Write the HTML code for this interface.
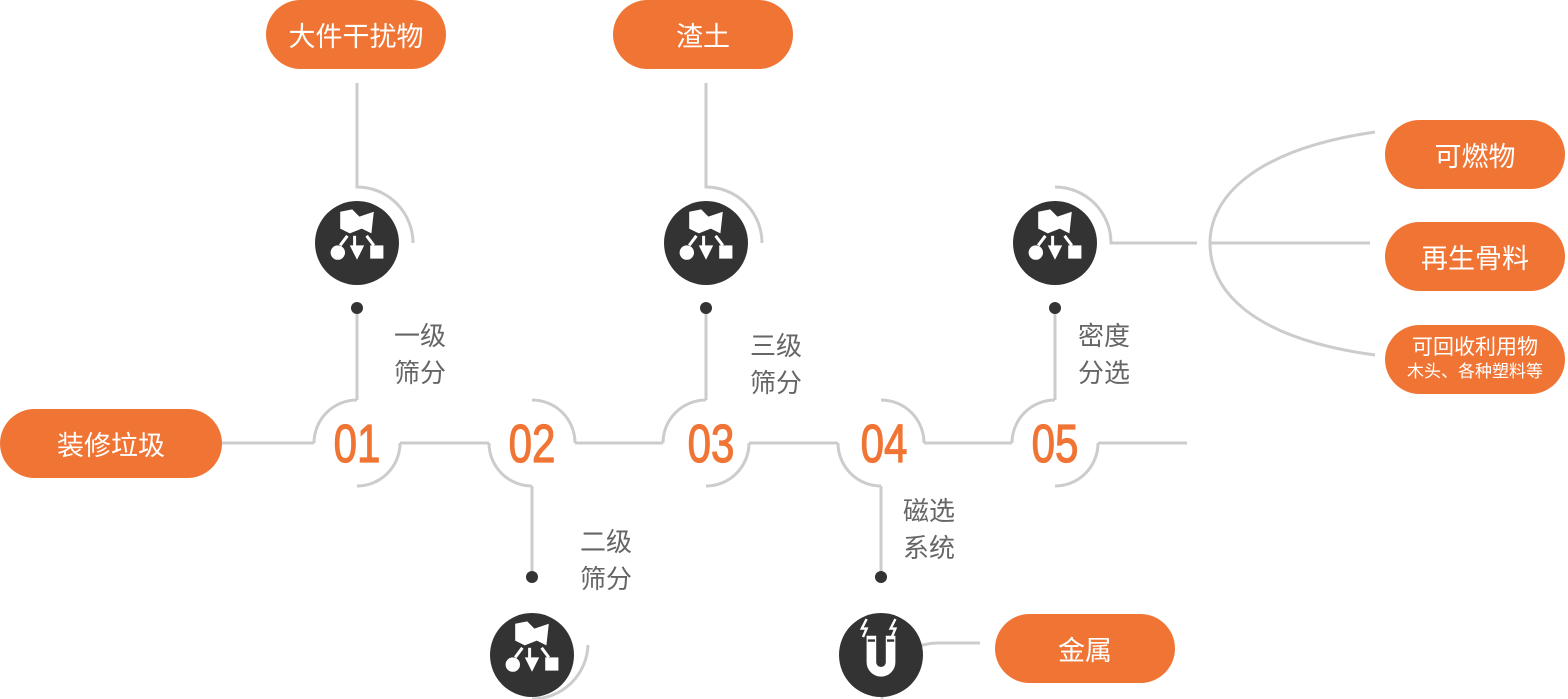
<!DOCTYPE html>
<html><head><meta charset="utf-8"><style>
body{margin:0;width:1568px;height:699px;background:#fff;overflow:hidden;position:relative;font-family:"Liberation Sans","Noto Sans CJK SC",sans-serif}
.pill{position:absolute;background:#f07535;color:#fff;border-radius:35px;width:180px;height:69px;display:flex;align-items:center;justify-content:center;font-size:27px;flex-direction:column}
.lb{position:absolute;color:#666;font-size:26px;line-height:37px}
.num{position:absolute;color:#f07535;font-size:54px;font-weight:normal;-webkit-text-stroke:1.2px #f07535;width:100px;text-align:center;transform:scaleX(0.78);line-height:54px}
</style></head><body>
<svg width="1568" height="699" style="position:absolute;left:0;top:0">
<defs>
<g id="ic">
<circle r="42" fill="#333"/>
<g transform="scale(1.2)">
<path d="M-14,-26 L-4,-28 L2,-22 L14,-26 L12,-8 L4,-12 L-6,-8 L-14,-12Z" fill="#fff"/>
<path d="M-2,-6 V4" stroke="#fff" stroke-width="2.5"/>
<path d="M-8,2 L4,2 L-2,14Z" transform="translate(2,0)" fill="#fff"/>
<path d="M-8,-6 L-14,2 M8,-6 L14,2" stroke="#fff" stroke-width="2.5"/>
<circle cx="-16" cy="8" r="6" fill="#fff"/>
<rect x="11" y="2" width="11" height="11" fill="#fff"/>
</g>
</g>
<g id="mag">
<circle r="42" fill="#333"/>
<g transform="scale(1.2)">
<path d="M-12,-16 V6 A12,12 0 0 0 12,6 V-16 H4 V6 A4,4 0 0 1 -4,6 V-16Z" fill="#fff"/>
<path d="M-11,-12 H-5 M5,-12 H11" stroke="#333" stroke-width="2"/>
<path d="M-12,-30 L-16,-22 L-12,-22 L-15,-15 M12,-30 L8,-22 L12,-22 L9,-15" stroke="#fff" stroke-width="2" fill="none"/>
</g>
</g>
</defs>
<g fill="none" stroke="#ccc" stroke-width="3">
<path d="M222,443 H314 M400,443 H489 M575,443 H663 M749,443 H838 M924,443 H1012 M1098,443 H1187"/>
<path d="M357,400 A43,43 0 0 0 314,443 M400,443 A43,43 0 0 1 357,486"/>
<path d="M357,400 V308"/>
<path d="M532,400 A43,43 0 0 1 575,443 M489,443 A43,43 0 0 0 532,486 M532,486 V577"/>
<path d="M706,400 A43,43 0 0 0 663,443 M749,443 A43,43 0 0 1 706,486 M706,400 V308"/>
<path d="M881,400 A43,43 0 0 1 924,443 M838,443 A43,43 0 0 0 881,486 M881,486 V577"/>
<path d="M1055,400 A43,43 0 0 0 1012,443 M1098,443 A43,43 0 0 1 1055,486 M1055,400 V308"/>
<path d="M357,83 V187 A56,56 0 0 1 413,243"/>
<path d="M706,83 V187 A56,56 0 0 1 762,243"/>
<path d="M1055,187 A56,56 0 0 1 1111,243 H1197"/>
<path d="M588,645 A56,56 0 0 1 532,699"/>
<path d="M980,643 H938 A56,56 0 0 0 882,699"/>
<path d="M1375,132 C1250,150 1210,200 1210,243 C1210,290 1250,338 1375,355"/>
<path d="M1210,243 H1370"/>
</g>
<g fill="#333"><circle cx="357" cy="308" r="6"/><circle cx="706" cy="308" r="6"/><circle cx="1055" cy="308" r="6"/><circle cx="532" cy="577" r="6"/><circle cx="881" cy="577" r="6"/></g>
<use href="#ic" x="357" y="243"/>
<use href="#ic" x="706" y="243"/>
<use href="#ic" x="1055" y="243"/>
<use href="#ic" x="532" y="655"/>
<use href="#mag" x="881" y="655"/>
</svg>
<div class="pill" style="left:266px;top:0">大件干扰物</div>
<div class="pill" style="left:613px;top:0">渣土</div>
<div class="pill" style="left:0;top:409px;width:222px">装修垃圾</div>
<div class="pill" style="left:995px;top:614px">金属</div>
<div class="pill" style="left:1385px;top:120px">可燃物</div>
<div class="pill" style="left:1385px;top:222px">再生骨料</div>
<div class="pill" style="left:1385px;top:325px;font-size:21px;line-height:24px">可回收利用物<span style="font-size:17px">木头、各种塑料等</span></div>
<div class="lb" style="left:394px;top:318px">一级<br>筛分</div>
<div class="lb" style="left:580px;top:524px">二级<br>筛分</div>
<div class="lb" style="left:750px;top:328px">三级<br>筛分</div>
<div class="lb" style="left:903px;top:493px">磁选<br>系统</div>
<div class="lb" style="left:1078px;top:318px">密度<br>分选</div>
<div class="num" style="left:307px;top:417px">01</div>
<div class="num" style="left:482px;top:417px">02</div>
<div class="num" style="left:661px;top:417px">03</div>
<div class="num" style="left:834px;top:417px">04</div>
<div class="num" style="left:1005px;top:417px">05</div>
</body></html>
